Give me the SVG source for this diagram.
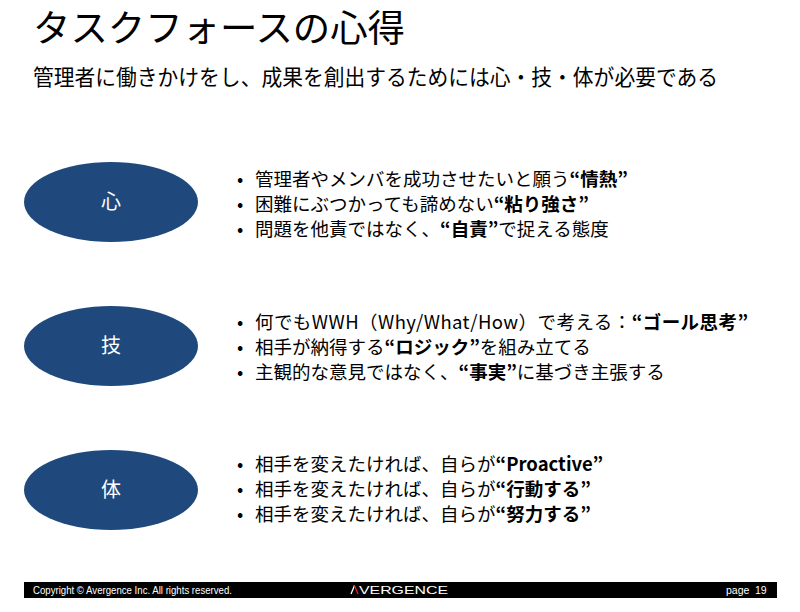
<svg xmlns="http://www.w3.org/2000/svg" width="800" height="612" viewBox="0 0 800 612">
<style>
.jp{font-family:"Noto Sans CJK JP","Noto Sans",sans-serif;fill:#000}
.b{font-weight:bold}
.node{fill:#1F497D}
.nl{font-family:"Noto Sans CJK JP",sans-serif;font-size:20px;fill:#fff;text-anchor:middle}
.bul{font-size:18.5px}
.ft{font-family:"Liberation Sans",sans-serif;fill:#fff}
</style>
<rect width="800" height="612" fill="#fff"/>
<text class="jp" x="33" y="42" font-size="37" textLength="372" lengthAdjust="spacingAndGlyphs">タスクフォースの心得</text>
<text class="jp" x="33" y="85" font-size="21.5" textLength="685" lengthAdjust="spacingAndGlyphs">管理者に働きかけをし、成果を創出するためには心・技・体が必要である</text>

<g id="node-kokoro">
<ellipse class="node" cx="111" cy="202" rx="87" ry="40"/>
<text class="nl" x="111" y="209">心</text>
</g>
<g id="node-gi">
<ellipse class="node" cx="111" cy="346" rx="87" ry="40"/>
<text class="nl" x="111" y="353">技</text>
</g>
<g id="node-tai">
<ellipse class="node" cx="111" cy="490" rx="87" ry="40"/>
<text class="nl" x="111" y="497">体</text>
</g>

<g id="bullets-kokoro" class="jp bul">
<text x="237" y="186">•</text>
<text x="255" y="186">管理者やメンバを成功させたいと願う<tspan class="b">“情熱”</tspan></text>
<text x="237" y="211">•</text>
<text x="255" y="211">困難にぶつかっても諦めない<tspan class="b">“粘り強さ”</tspan></text>
<text x="237" y="236">•</text>
<text x="255" y="236">問題を他責ではなく、<tspan class="b">“自責”</tspan>で捉える態度</text>
</g>
<g id="bullets-gi" class="jp bul">
<text x="237" y="329">•</text>
<text x="255" y="329" textLength="493" lengthAdjust="spacing">何でもWWH（Why/What/How）で考える：<tspan class="b">“ゴール思考”</tspan></text>
<text x="237" y="354">•</text>
<text x="255" y="354">相手が納得する<tspan class="b">“ロジック”</tspan>を組み立てる</text>
<text x="237" y="379">•</text>
<text x="255" y="379">主観的な意見ではなく、<tspan class="b">“事実”</tspan>に基づき主張する</text>
</g>
<g id="bullets-tai" class="jp bul">
<text x="237" y="471">•</text>
<text x="255" y="471">相手を変えたければ、自らが<tspan class="b">“Proactive”</tspan></text>
<text x="237" y="496">•</text>
<text x="255" y="496">相手を変えたければ、自らが<tspan class="b">“行動する”</tspan></text>
<text x="237" y="521">•</text>
<text x="255" y="521">相手を変えたければ、自らが<tspan class="b">“努力する”</tspan></text>
</g>

<g id="connectors"></g>

<g id="footer">
<rect x="24" y="582" width="753" height="16" fill="#000"/>
<text class="ft" x="33" y="594" font-size="10.5" textLength="199" lengthAdjust="spacingAndGlyphs">Copyright © Avergence Inc. All rights reserved.</text>
<path d="M351 594 L354.5 585.5" stroke="#fff" stroke-width="1.3" fill="none"/>
<path d="M354.5 585.5 L358 594" stroke="#e0202a" stroke-width="1.3" fill="none"/>
<text class="ft" x="359" y="594" font-size="11" textLength="89" lengthAdjust="spacingAndGlyphs">VERGENCE</text>
<text class="ft" x="726" y="594" font-size="10.5">page</text>
<text class="ft" x="755" y="594" font-size="10.5">19</text>
</g>
</svg>
